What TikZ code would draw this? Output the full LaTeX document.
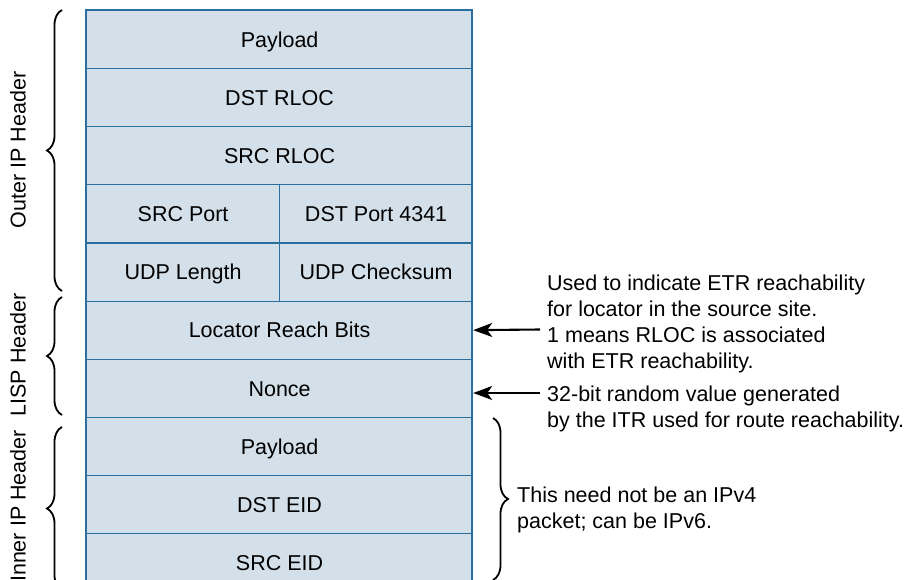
\documentclass[tikz,border=0pt]{standalone}
\usepackage{fontspec}
\setmainfont{Liberation Sans}
\usetikzlibrary{decorations.pathreplacing,arrows.meta}
\definecolor{cellfill}{RGB}{211,224,234}
\definecolor{cellline}{RGB}{45,110,160}
\begin{document}
\begin{tikzpicture}[x=1pt,y=-1pt,
 cell/.style={draw=cellline, line width=1.2pt, fill=cellfill, minimum height=58.1pt, inner sep=0pt, text height=15.5pt, text depth=0pt, font=\fontsize{21.5}{25}\selectfont, anchor=north west},
 wide/.style={cell, minimum width=386pt},
 half/.style={cell, minimum width=193pt},
 brc/.style={decorate, decoration={brace, amplitude=15pt}, line width=1.8pt},
 arr/.style={-{Stealth[length=19pt,width=14pt,inset=5pt]}, line width=2.1pt},
 note/.style={font=\fontsize{21.5}{25.8}\selectfont, align=left, anchor=west, inner sep=0pt},
 side/.style={font=\fontsize{21.5}{25}\selectfont, rotate=90, inner sep=0pt}]
\useasboundingbox (0,0) rectangle (908,580);
\node[wide] (pay1) at (86,10) {Payload};
\node[wide] (dstrloc) at (86,68.1) {DST RLOC};
\node[wide] (srcrloc) at (86,126.2) {SRC RLOC};
\node[half] (srcport) at (86,184.3) {SRC Port};
\node[half] (dstport) at (279,184.3) {DST Port 4341};
\node[half] (udplen) at (86,242.4) {UDP Length};
\node[half] (udpchk) at (279,242.4) {UDP Checksum};
\node[wide] (loc) at (86,300.5) {Locator Reach Bits};
\node[wide] (nonce) at (86,358.6) {Nonce};
\node[wide] (pay2) at (86,416.7) {Payload};
\node[wide] (dsteid) at (86,474.8) {DST EID};
\node[wide] (srceid) at (86,532.9) {SRC EID};
\draw[cellline, line width=2pt] (86,10) rectangle (472,591);
% left braces and labels
\draw[brc] (62,291) -- (62,10);
\draw[brc] (62,415) -- (62,297);
\draw[brc] (62,590) -- (62,427);
\node[side] (outerlbl) at (18,150) {Outer IP Header};
\node[side] (lisplbl) at (18,355) {LISP Header};
\node[side] (innerlbl) at (18,506) {Inner IP Header};
% notes
\coordinate (a1) at (540,329.5);
\coordinate (a2) at (540,393);
\draw[arr] (a1) -- (loc.east);
\draw[arr] (a2) -- (a2 -| nonce.east);
\node[note] (note1) at (547,324) {Used to indicate ETR reachability\\for locator in the source site.\\1 means RLOC is associated\\with ETR reachability.};
\node[note] (note2) at (547,409) {32-bit random value generated\\by the ITR used for route reachability.};
\draw[brc] (493,418) -- (493,580);
\node[note] (note3) at (517,510) {This need not be an IPv4\\packet; can be IPv6.};
\end{tikzpicture}
\end{document}
